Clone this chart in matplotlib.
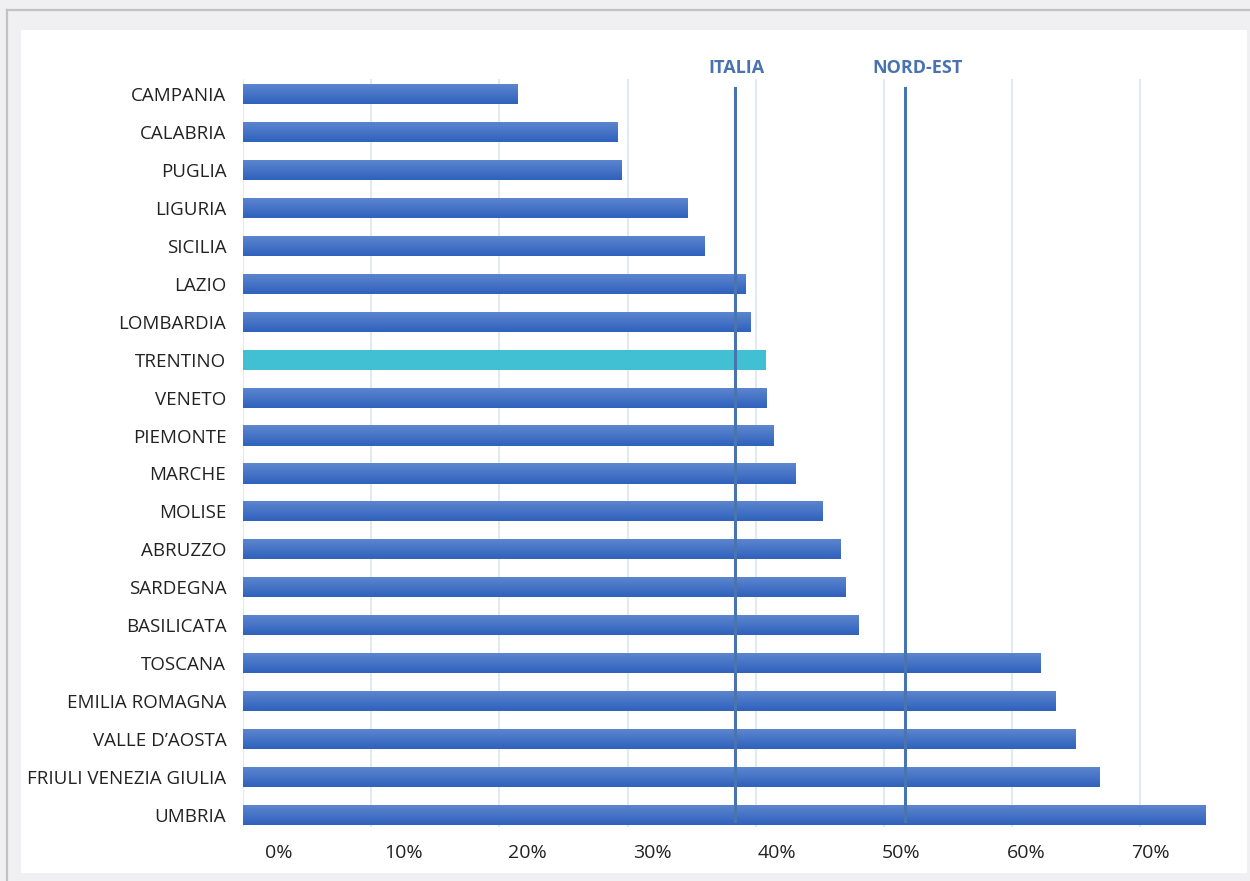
import matplotlib.pyplot as plt
import numpy as np
from matplotlib.patches import Rectangle
from matplotlib.lines import Line2D
from matplotlib.colors import LinearSegmentedColormap
import matplotlib.transforms as mtransforms

# dati (percentuali), dall'alto verso il basso
regioni = ['CAMPANIA', 'CALABRIA', 'PUGLIA', 'LIGURIA', 'SICILIA', 'LAZIO',
           'LOMBARDIA', 'TRENTINO', 'VENETO', 'PIEMONTE', 'MARCHE', 'MOLISE',
           'ABRUZZO', 'SARDEGNA', 'BASILICATA', 'TOSCANA', 'EMILIA ROMAGNA',
           "VALLE D\u2019AOSTA", 'FRIULI VENEZIA GIULIA', 'UMBRIA']
valori = [21.4, 29.2, 29.5, 34.7, 36.0, 39.2, 39.6, 40.8, 40.8, 41.4, 43.1,
          45.2, 46.6, 47.0, 48.0, 62.2, 63.4, 64.9, 66.8, 75.1]
evidenziata = 'TRENTINO'

riferimenti = ['ITALIA', 'NORD-EST']
valori_rif = [38.4, 51.6]

tick_val = [0, 10, 20, 30, 40, 50, 60, 70]
tick_lab = ['0%', '10%', '20%', '30%', '40%', '50%', '60%', '70%']

plt.rcParams['font.family'] = ['Open Sans', 'DejaVu Sans']

W, H = 1250, 881
fig = plt.figure(figsize=(12.5, 8.81), dpi=100, facecolor='#f0f0f2')

# cornice: linea grigia e pannello bianco
fig.add_artist(Line2D([7 / W, 7 / W], [0, 1 - 10 / H], color='#c2c2c4', lw=1.6))
fig.add_artist(Line2D([7 / W, 1], [1 - 10 / H, 1 - 10 / H], color='#c2c2c4', lw=1.6))
fig.add_artist(Rectangle((21 / W, 1 - 873 / H), (1247 - 21) / W, (873 - 30) / H,
                         transform=fig.transFigure, facecolor='white',
                         edgecolor='none', zorder=0))

ax = fig.add_axes([243 / W, 1 - 827 / H, 1000 / W, 748 / H])
ax.set_facecolor('none')

n = len(regioni)
y = np.arange(n)[::-1]
h = 0.53
colori = ['#41c0d4' if r == evidenziata else '#3a6cc4' for r in regioni]
bars = ax.barh(y, valori, height=h, color=colori, zorder=2)

# sfumatura verticale sulle barre blu
grad = np.linspace(0, 1, 64).reshape(-1, 1)
cmap = LinearSegmentedColormap.from_list('g', ['#2f61bc', '#5f87d0'])
for b, r in zip(bars, regioni):
    if r == evidenziata:
        continue
    x0, y0 = b.get_x(), b.get_y()
    im = ax.imshow(grad, extent=[x0, x0 + b.get_width(), y0, y0 + b.get_height()],
                   cmap=cmap, aspect='auto', origin='lower', zorder=2.5,
                   interpolation='bicubic')
    im.set_clip_path(b)

ax.set_xlim(0, 78)
ax.set_ylim(-0.32, n - 1 + 0.4)

ax.set_xticks(tick_val)
ax.xaxis.grid(True, color='#e4e8ef', lw=1.5, zorder=0)
ax.set_axisbelow(True)
ax.tick_params(axis='x', length=0, labelbottom=False)
ax.tick_params(axis='y', length=0, pad=12, labelsize=13.5, labelcolor='#222222')
ax.set_yticks(y)
ax.set_yticklabels(regioni)
for s in ax.spines.values():
    s.set_visible(False)

# etichette asse x (leggermente spostate come nell'originale)
tr = mtransforms.blended_transform_factory(ax.transData, ax.transAxes)
for v, lab in zip(tick_val, tick_lab):
    ax.text(2.8 + v * 0.971, -0.035, lab, transform=tr, ha='center', va='center',
            fontsize=14, color='#222222')

# linee di riferimento
for nome, v in zip(riferimenti, valori_rif):
    ax.axvline(v, ymin=0.008, ymax=0.988, color='#4a74b0', lw=2.2, zorder=3)
    ax.text(v + (0.1 if nome == 'ITALIA' else 1.0), 1.0147, nome, transform=tr,
            ha='center', va='center', fontsize=13, fontweight='bold',
            color='#4a72b0')

fig.savefig('out.png', dpi=100, facecolor=fig.get_facecolor())
